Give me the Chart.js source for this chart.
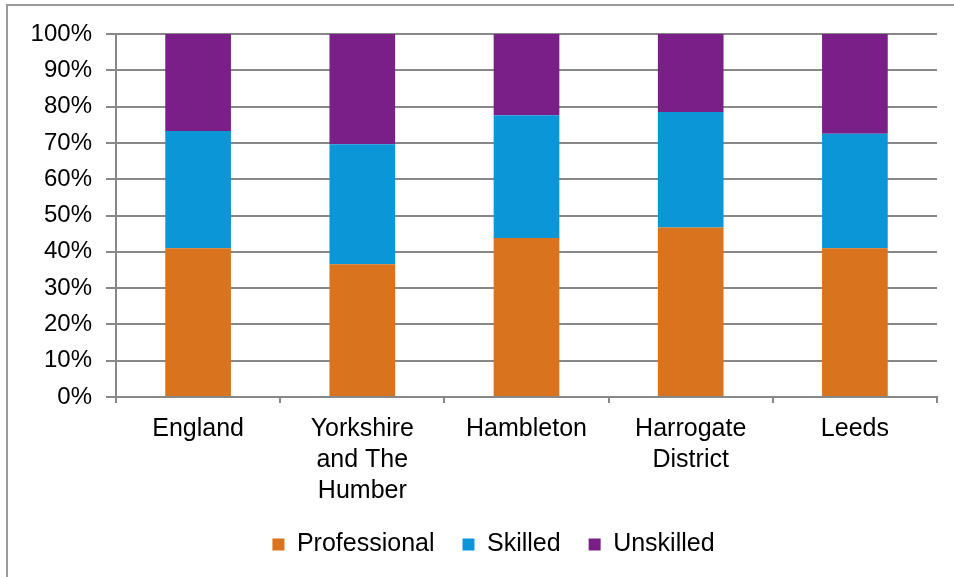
<!DOCTYPE html>
<html>
<head>
<meta charset="utf-8">
<script src="https://cdn.jsdelivr.net/npm/chart.js@4/dist/chart.umd.min.js"></script>
<style>
  html, body { margin: 0; padding: 0; background: #fff; overflow: hidden; }
  #wrap { position: relative; width: 954px; height: 577px; }
  #frame {
    position: absolute; left: 6px; top: 4px; width: 948px; height: 573px;
    border-top: 2px solid #9a9a9a; border-left: 2px solid #9a9a9a;
    box-sizing: border-box; pointer-events: none;
  }
  canvas { position: absolute; left: 0; top: 0; }
</style>
</head>
<body>
<div id="wrap">
  <canvas id="occChart" width="954" height="577"></canvas>
  <div id="frame"></div>
</div>
<script>
const areas = [
  "England",
  ["Yorkshire", "and The", "Humber"],
  "Hambleton",
  ["Harrogate", "District"],
  "Leeds",
];
const professional = [41.0, 36.6, 43.8, 46.7, 41.0];
const skilled = [32.3, 33.0, 33.8, 31.8, 31.5];
const unskilled = [26.7, 30.4, 22.4, 21.5, 27.5];

const gridGrey = "#888888";
const font = "'Liberation Sans', Arial, sans-serif";

// legend in the original sits a bit right of the canvas centre
const shiftLegend = {
  id: "shiftLegend",
  afterUpdate(chart) {
    chart.legend.left += 25;
    chart.legend.right += 25;
  },
};

new Chart(document.getElementById("occChart"), {
  type: "bar",
  data: {
    labels: areas,
    datasets: [
      { label: "Professional", data: professional, backgroundColor: "#da731e" },
      { label: "Skilled", data: skilled, backgroundColor: "#0b96d8" },
      { label: "Unskilled", data: unskilled, backgroundColor: "#7a1e88" },
    ],
  },
  plugins: [shiftLegend],
  options: {
    responsive: false,
    animation: false,
    categoryPercentage: 0.8,
    barPercentage: 0.5,
    layout: { padding: { left: 0, right: 17, top: 34, bottom: 10 } },
    scales: {
      x: {
        stacked: true,
        afterFit: (scale) => { scale.height = 107; },
        border: { color: gridGrey, width: 2 },
        grid: { drawOnChartArea: false, color: gridGrey, lineWidth: 2, tickLength: 6 },
        ticks: {
          color: "#000",
          padding: 11,
          maxRotation: 0,
          autoSkip: false,
          font: { family: font, size: 25, lineHeight: 1.24 },
        },
      },
      y: {
        stacked: true,
        min: 0,
        max: 100,
        afterFit: (scale) => { scale.width = 116; },
        border: { color: gridGrey, width: 2 },
        grid: { color: gridGrey, lineWidth: 2, tickLength: 10 },
        ticks: {
          stepSize: 10,
          color: "#000",
          padding: 14,
          font: { family: font, size: 24 },
          callback: (v) => v + "%",
        },
      },
    },
    plugins: {
      tooltip: { enabled: false },
      legend: {
        position: "bottom",
        labels: {
          color: "#000",
          boxWidth: 12,
          boxHeight: 12,
          padding: 28,
          font: { family: font, size: 25 },
        },
      },
    },
  },
});
</script>
</body>
</html>
